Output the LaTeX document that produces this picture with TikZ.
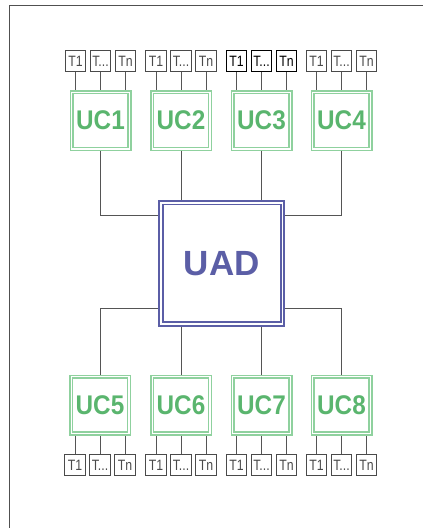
\documentclass[tikz,border=0pt]{standalone}
\usepackage{fontspec}
\setmainfont{Liberation Sans}
\newfontfamily\tfont[FakeStretch=0.82]{Liberation Sans}
\newfontfamily\ucfont[FakeStretch=0.9]{Liberation Sans}
\usetikzlibrary{backgrounds}
\definecolor{ucgreen}{HTML}{8FD19E}
\definecolor{uctext}{HTML}{5AB56E}
\definecolor{uadblue}{HTML}{5B5EA6}
\definecolor{wiregray}{HTML}{555555}
\definecolor{tgray}{HTML}{4A4A4A}
\definecolor{framegray}{HTML}{505050}
\begin{document}
\begin{tikzpicture}[x=1pt,y=-1pt,
  uc/.style={draw=ucgreen, line width=1.5pt, double=white, double distance=1.4pt,
    minimum width=57.6pt, minimum height=56.6pt, inner sep=0pt, text=uctext,
    font=\ucfont\fontsize{27}{27}\selectfont\bfseries},
  uad/.style={draw=uadblue, line width=1.9pt, double=white, double distance=1.8pt,
    minimum size=121.4pt, inner sep=0pt, text=uadblue,
    font=\fontsize{35}{35}\selectfont\bfseries},
  tbox/.style={draw=tgray, line width=0.9pt, minimum size=20.5pt, inner sep=0pt,
    text=tgray, font=\tfont\fontsize{15}{15}\selectfont},
  tdark/.style={tbox, draw=black, text=black},
  wire/.style={draw=wiregray, line width=1pt}]
\useasboundingbox (0,0) rectangle (423,528);
\clip (0,0) rectangle (423,528);
\draw[draw=framegray, line width=1.5pt] (9.5,5.5) rectangle (460,570);

% central unit
\node[uad] (uad) at (221.7,263.3) {UAD};

% upper units
\foreach \i/\x in {1/100.5, 2/181, 3/261.5, 4/341.5}{
  \node[uc] (uc\i) at (\x,120.5) {UC\i};
}
\foreach \i/\x in {1/100.5, 2/181, 4/341.5}{
  \node[tbox] (t\i a) at (\x-25,61) {T1};
  \node[tbox] (t\i b) at (\x,61) {T...};
  \node[tbox] (t\i n) at (\x+25,61) {Tn};
}
\node[tdark] (t3a) at (236.5,61) {T1};
\node[tdark] (t3b) at (261.5,61) {T...};
\node[tdark] (t3n) at (286.5,61) {Tn};

% lower units
\foreach \i/\x in {5/100, 6/181, 7/261.5, 8/341.5}{
  \node[uc] (uc\i) at (\x,405) {UC\i};
  \node[tbox] (t\i a) at (\x-25,465) {T1};
  \node[tbox] (t\i b) at (\x,465) {T...};
  \node[tbox] (t\i n) at (\x+25,465) {Tn};
}

\begin{pgfonlayer}{background}
  \foreach \i in {1,2,3,4}{
    \foreach \k in {a,b,n}{
      \draw[wire] (t\i\k.south) -- (t\i\k.south |- uc\i.north);
    }
  }
  \foreach \i in {5,6,7,8}{
    \foreach \k in {a,b,n}{
      \draw[wire] (t\i\k.north) -- (t\i\k.north |- uc\i.south);
    }
  }
  \draw[wire] (uc1.south) |- ([yshift=-14.3pt]uad.north west);
  \draw[wire] (uc2.south) -- (uc2.south |- uad.north);
  \draw[wire] (uc3.south) -- (uc3.south |- uad.north);
  \draw[wire] (uc4.south) |- ([yshift=-14.3pt]uad.north east);
  \draw[wire] (uc5.north) |- ([yshift=16.8pt]uad.south west);
  \draw[wire] (uc6.north) -- (uc6.north |- uad.south);
  \draw[wire] (uc7.north) -- (uc7.north |- uad.south);
  \draw[wire] (uc8.north) |- ([yshift=16.8pt]uad.south east);
\end{pgfonlayer}
\end{tikzpicture}
\end{document}
